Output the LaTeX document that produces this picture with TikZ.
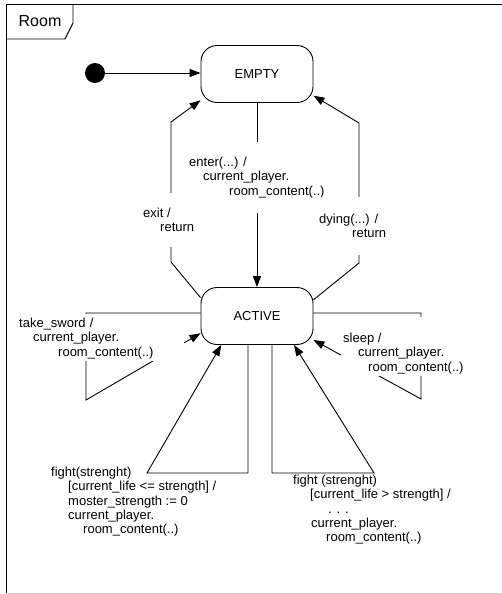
\documentclass[tikz,border=0pt]{standalone}
\usepackage{fontspec}
\setmainfont{Liberation Sans}
\usetikzlibrary{arrows.meta}

\begin{document}
\begin{tikzpicture}[x=1pt,y=-1pt,
    state/.style={draw,line width=0.9pt,rounded corners=16pt,minimum width=112pt,minimum height=57pt,font=\fontsize{13}{14.2}\selectfont},
    trans/.style={line width=0.9pt,-{Triangle[length=11pt,width=8pt]}},
    lbl/.style={anchor=north west,align=left,inner sep=0pt,font=\fontsize{13}{14.2}\selectfont},
    cover/.style={fill=white,inner xsep=2pt}]
    \useasboundingbox (0,0) rectangle (502,594);
    % Frame %
    \draw[line width=1.2pt] (502,4.5) -- (6.5,4.5) -- (6.5,593);
    \draw[gray!35] (6.5,593) -- (502,593);
    \draw[line width=0.9pt] (73,4.5) -- (73,23) -- (65,39) -- (6.5,39);
    \node[font=\fontsize{16}{16}\selectfont] (room) at (40,21) {Room};

    % States %
    \fill (95,73) circle (10pt);
    \coordinate (init) at (105,73);
    \node[state] (empty) at (257,74) {EMPTY};
    \node[state] (active) at (257,316) {ACTIVE};

    % Transitions %
    \coordinate (exA) at (171,262);
    \coordinate (exB) at (171,122);
    \coordinate (dyA) at (359,263);
    \coordinate (dyB) at (359,123);
    \coordinate (ts) at (86,400);
    \coordinate (sl) at (421,399);
    \coordinate (fl) at (147,473);
    \coordinate (fr) at (374,473);
    \draw[trans] (init) -- (init -| empty.west);
    \draw[trans] (empty.south) -- (active.north);
    \draw[trans] (active.162) -- (exA) -- (exB) -- (empty.205);
    \draw[trans] (active.16) -- (dyA) -- (dyB) -- (empty.-21);
    \draw[trans] (active.177) -| (ts) -- (active.197);
    \draw[trans] (active.3) -| (sl) -- (active.-23);
    \draw[trans] ([xshift=-9pt]active.south) |- (fl) -- (active.219);
    \draw[trans] ([xshift=15pt]active.south) |- (fr) -- (active.-38);

    % Labels %
    \node[lbl,cover,inner ysep=15pt] (enter) at (187,142)
        {enter(...) /\\\hspace*{14pt}current\_player.\\\hspace*{40pt}room\_content(..)};
    \node[lbl,cover,inner ysep=15pt] (exit) at (141,193)
        {exit /\\\hspace*{17pt}return};
    \node[lbl,cover,inner ysep=17pt] (dying) at (317,197)
        {dying(...) /\\\hspace*{33pt}return};
    \node[lbl,cover,inner ysep=2pt,text width=163pt] (take) at (17,314)
        {\rule{0pt}{11.5pt}take\_sword /\\\hspace*{14pt}current\_player.\\\hspace*{39pt}room\_content(..)};
    \node[lbl,cover,inner ysep=2pt] (sleep) at (341,317)
        {\rule{0pt}{23.5pt}sleep /\\\hspace*{15pt}current\_player.\\\hspace*{25pt}room\_content(..)};
    \node[lbl] (fightl) at (51,467)
        {fight(strenght)\\\hspace*{17pt}[current\_life <= strength] /\\\hspace*{17pt}moster\_strength := 0\\\hspace*{17pt}current\_player.\\\hspace*{32pt}room\_content(..)};
    \node[lbl] (fightr) at (293,475)
        {fight (strenght)\\\hspace*{17pt}[current\_life > strength] /\\\hspace*{35pt}. . .\\\hspace*{18pt}current\_player.\\\hspace*{33pt}room\_content(..)};
\end{tikzpicture}
\end{document}
